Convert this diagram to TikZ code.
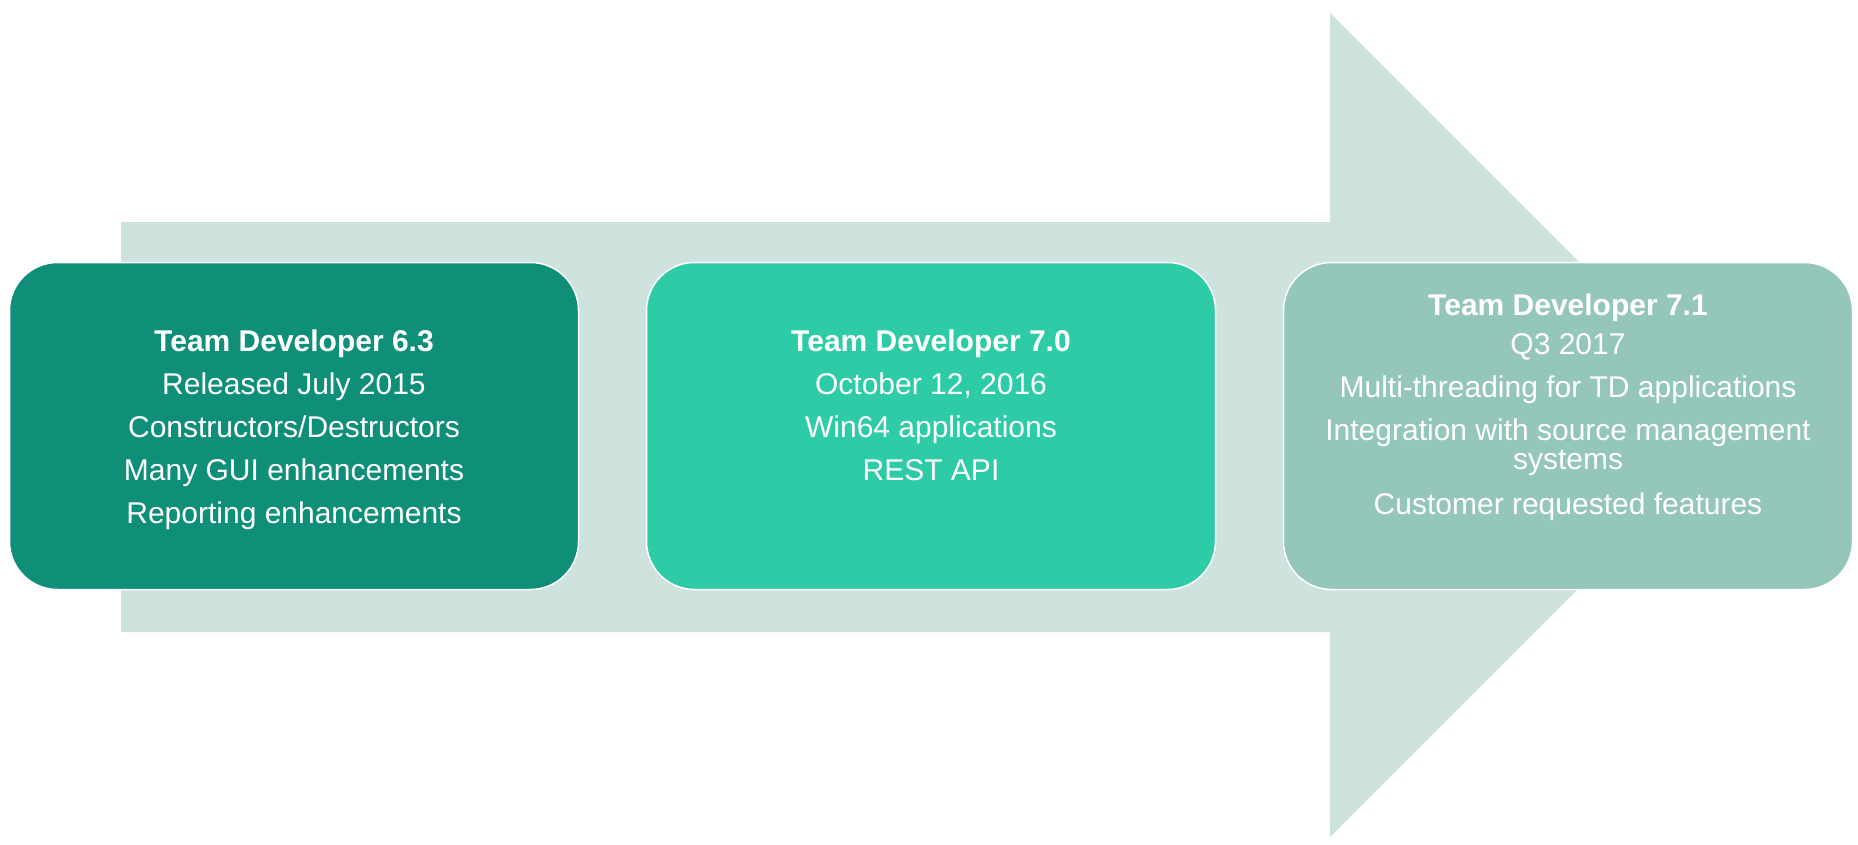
\documentclass[tikz,border=0pt]{standalone}
\usepackage{fontspec}
\setmainfont{Liberation Sans}
\definecolor{arrowfill}{HTML}{CEE3DD}
\definecolor{boxA}{HTML}{0F8F78}
\definecolor{boxB}{HTML}{2ECBA7}
\definecolor{boxC}{HTML}{94C6B9}
\tikzset{
  release/.style={rectangle, rounded corners=48pt, draw=white, line width=1.5pt,
    minimum width=569pt, minimum height=327pt, inner sep=0pt,
    text=white, align=center, font=\fontsize{30}{43}\selectfont},
}
\begin{document}
\begin{tikzpicture}[x=1pt,y=-1pt]
\useasboundingbox (0,0) rectangle (1858,844);
\fill[white] (0,0) rectangle (1858,844);
% big arrow
\fill[arrowfill] (121,222) -- (1330,222) -- (1330,13) -- (1742,425)
  -- (1330,837) -- (1330,632) -- (121,632) -- cycle;
% boxes
\node[release, fill=boxA] (b1) at (294,426)
  {\rule{0pt}{29pt}\textbf{Team Developer 6.3}\\Released July 2015\\Constructors/Destructors\\Many GUI enhancements\\Reporting enhancements};
\node[release, fill=boxB] (b2) at (931,426)
  {\textbf{Team Developer 7.0}\\October 12, 2016\\Win64 applications\\REST API\\[-14pt]\strut};
\node[release, fill=boxC] (b3) at (1568,426)
  {\textbf{Team Developer 7.1}\\[-4pt]Q3 2017\\Multi-threading for TD applications\\Integration with source management\\[-14pt]systems\\[2pt]Customer requested features\\[-12pt]\strut};
\end{tikzpicture}
\end{document}
